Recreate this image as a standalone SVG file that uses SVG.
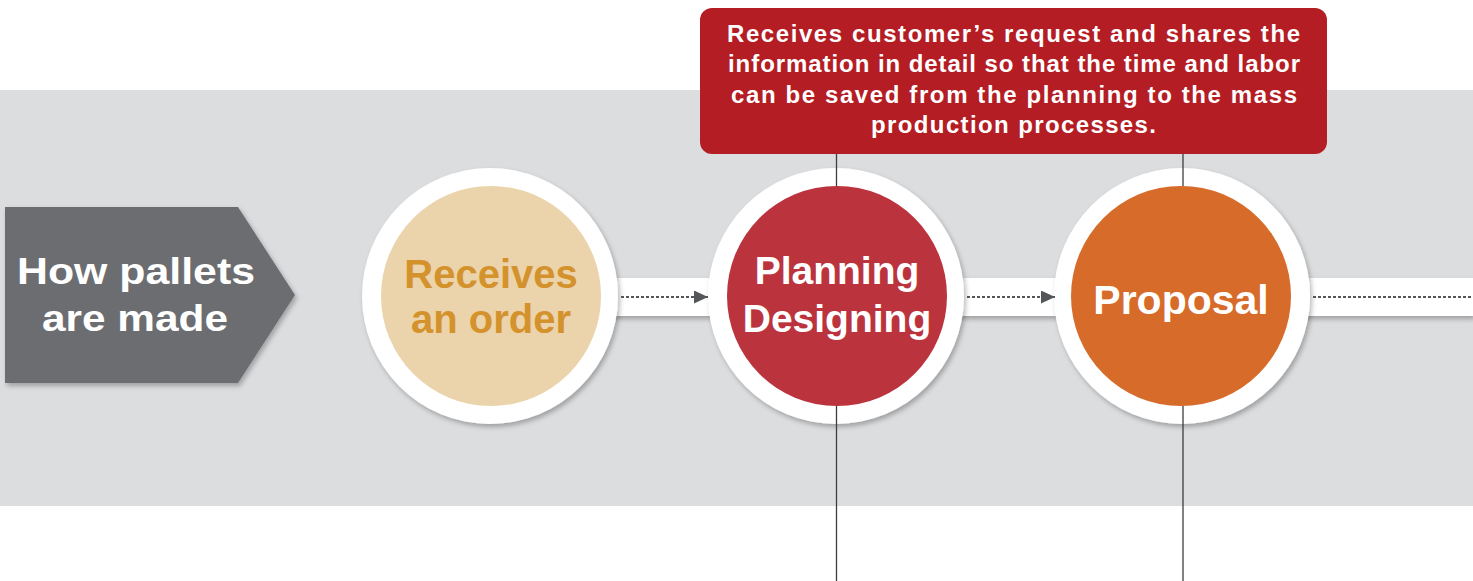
<svg xmlns="http://www.w3.org/2000/svg" width="1473" height="581" viewBox="0 0 1473 581">
<defs>
<filter id="sh" x="-20%" y="-20%" width="140%" height="140%">
<feDropShadow dx="2" dy="3" stdDeviation="2.5" flood-color="#000" flood-opacity="0.28"/>
</filter>
<marker id="ah" viewBox="0 0 14 13" refX="14" refY="6.5" markerWidth="14" markerHeight="13" markerUnits="userSpaceOnUse" orient="auto">
<path d="M0,0 L14,6.5 L0,13 Z" fill="#555659"/>
</marker>
<style>
.t{font-family:"Liberation Sans",Arial,sans-serif;font-weight:bold;text-anchor:middle}
.ring{fill:#ffffff;filter:url(#sh)}
.dot{stroke:#555659;stroke-width:2;stroke-dasharray:3 2;fill:none}
.vl{stroke:#3d3d3f;stroke-width:1.3;fill:none}
.ct{font-size:24px;fill:#ffffff}
</style>
</defs>
<rect x="0" y="0" width="1473" height="581" fill="#ffffff"/>
<rect x="0" y="90" width="1473" height="416" fill="#dcdddf"/>
<rect x="560" y="278" width="913" height="38" fill="#ffffff" filter="url(#sh)"/>

<g id="title">
<path d="M5,207 H238 L295,295 L238,383 H5 Z" fill="#6c6d71" filter="url(#sh)"/>
<text class="t" x="136" y="284" font-size="37" fill="#ffffff" textLength="238" lengthAdjust="spacingAndGlyphs">How pallets</text>
<text class="t" x="135" y="331" font-size="37" fill="#ffffff" textLength="186" lengthAdjust="spacingAndGlyphs">are made</text>
</g>

<g id="receives-order">
<circle class="ring" cx="490" cy="296" r="128"/>
<circle cx="491" cy="296" r="110" fill="#ebd3ab"/>
<text class="t" x="491" y="288" font-size="40" fill="#d4922c">Receives</text>
<text class="t" x="491" y="333" font-size="40" fill="#d4922c">an order</text>
</g>

<g id="planning-designing">
<circle class="ring" cx="836" cy="296" r="128"/>
<circle cx="837" cy="296" r="110" fill="#bb333d"/>
<text class="t" x="837" y="284" font-size="39" fill="#ffffff">Planning</text>
<text class="t" x="837" y="332" font-size="39" fill="#ffffff">Designing</text>
</g>

<g id="proposal">
<circle class="ring" cx="1182" cy="296" r="128"/>
<circle cx="1181" cy="296" r="110" fill="#d76b2a"/>
<text class="t" x="1181" y="314" font-size="41" fill="#ffffff">Proposal</text>
</g>

<g id="connectors">
<line class="dot" x1="621" y1="297" x2="708" y2="297" marker-end="url(#ah)"/>
<line class="dot" x1="967" y1="297" x2="1055" y2="297" marker-end="url(#ah)"/>
<line class="dot" x1="1313" y1="297" x2="1473" y2="297"/>
<line class="vl" x1="836.5" y1="153" x2="836.5" y2="186"/>
<line class="vl" x1="836.5" y1="406" x2="836.5" y2="581"/>
<line class="vl" x1="1183" y1="153" x2="1183" y2="186"/>
<line class="vl" x1="1183" y1="406" x2="1183" y2="581"/>
</g>

<g id="callout">
<rect x="700" y="8" width="627" height="146" rx="12" ry="12" fill="#b41d23"/>
<text class="t ct" x="1013.5" y="42" textLength="573" lengthAdjust="spacing">Receives customer’s request and shares the</text>
<text class="t ct" x="1014" y="72" textLength="572" lengthAdjust="spacing">information in detail so that the time and labor</text>
<text class="t ct" x="1014" y="103" textLength="566" lengthAdjust="spacing">can be saved from the planning to the mass</text>
<text class="t ct" x="1013.5" y="133" textLength="285" lengthAdjust="spacing">production processes.</text>
</g>
</svg>
